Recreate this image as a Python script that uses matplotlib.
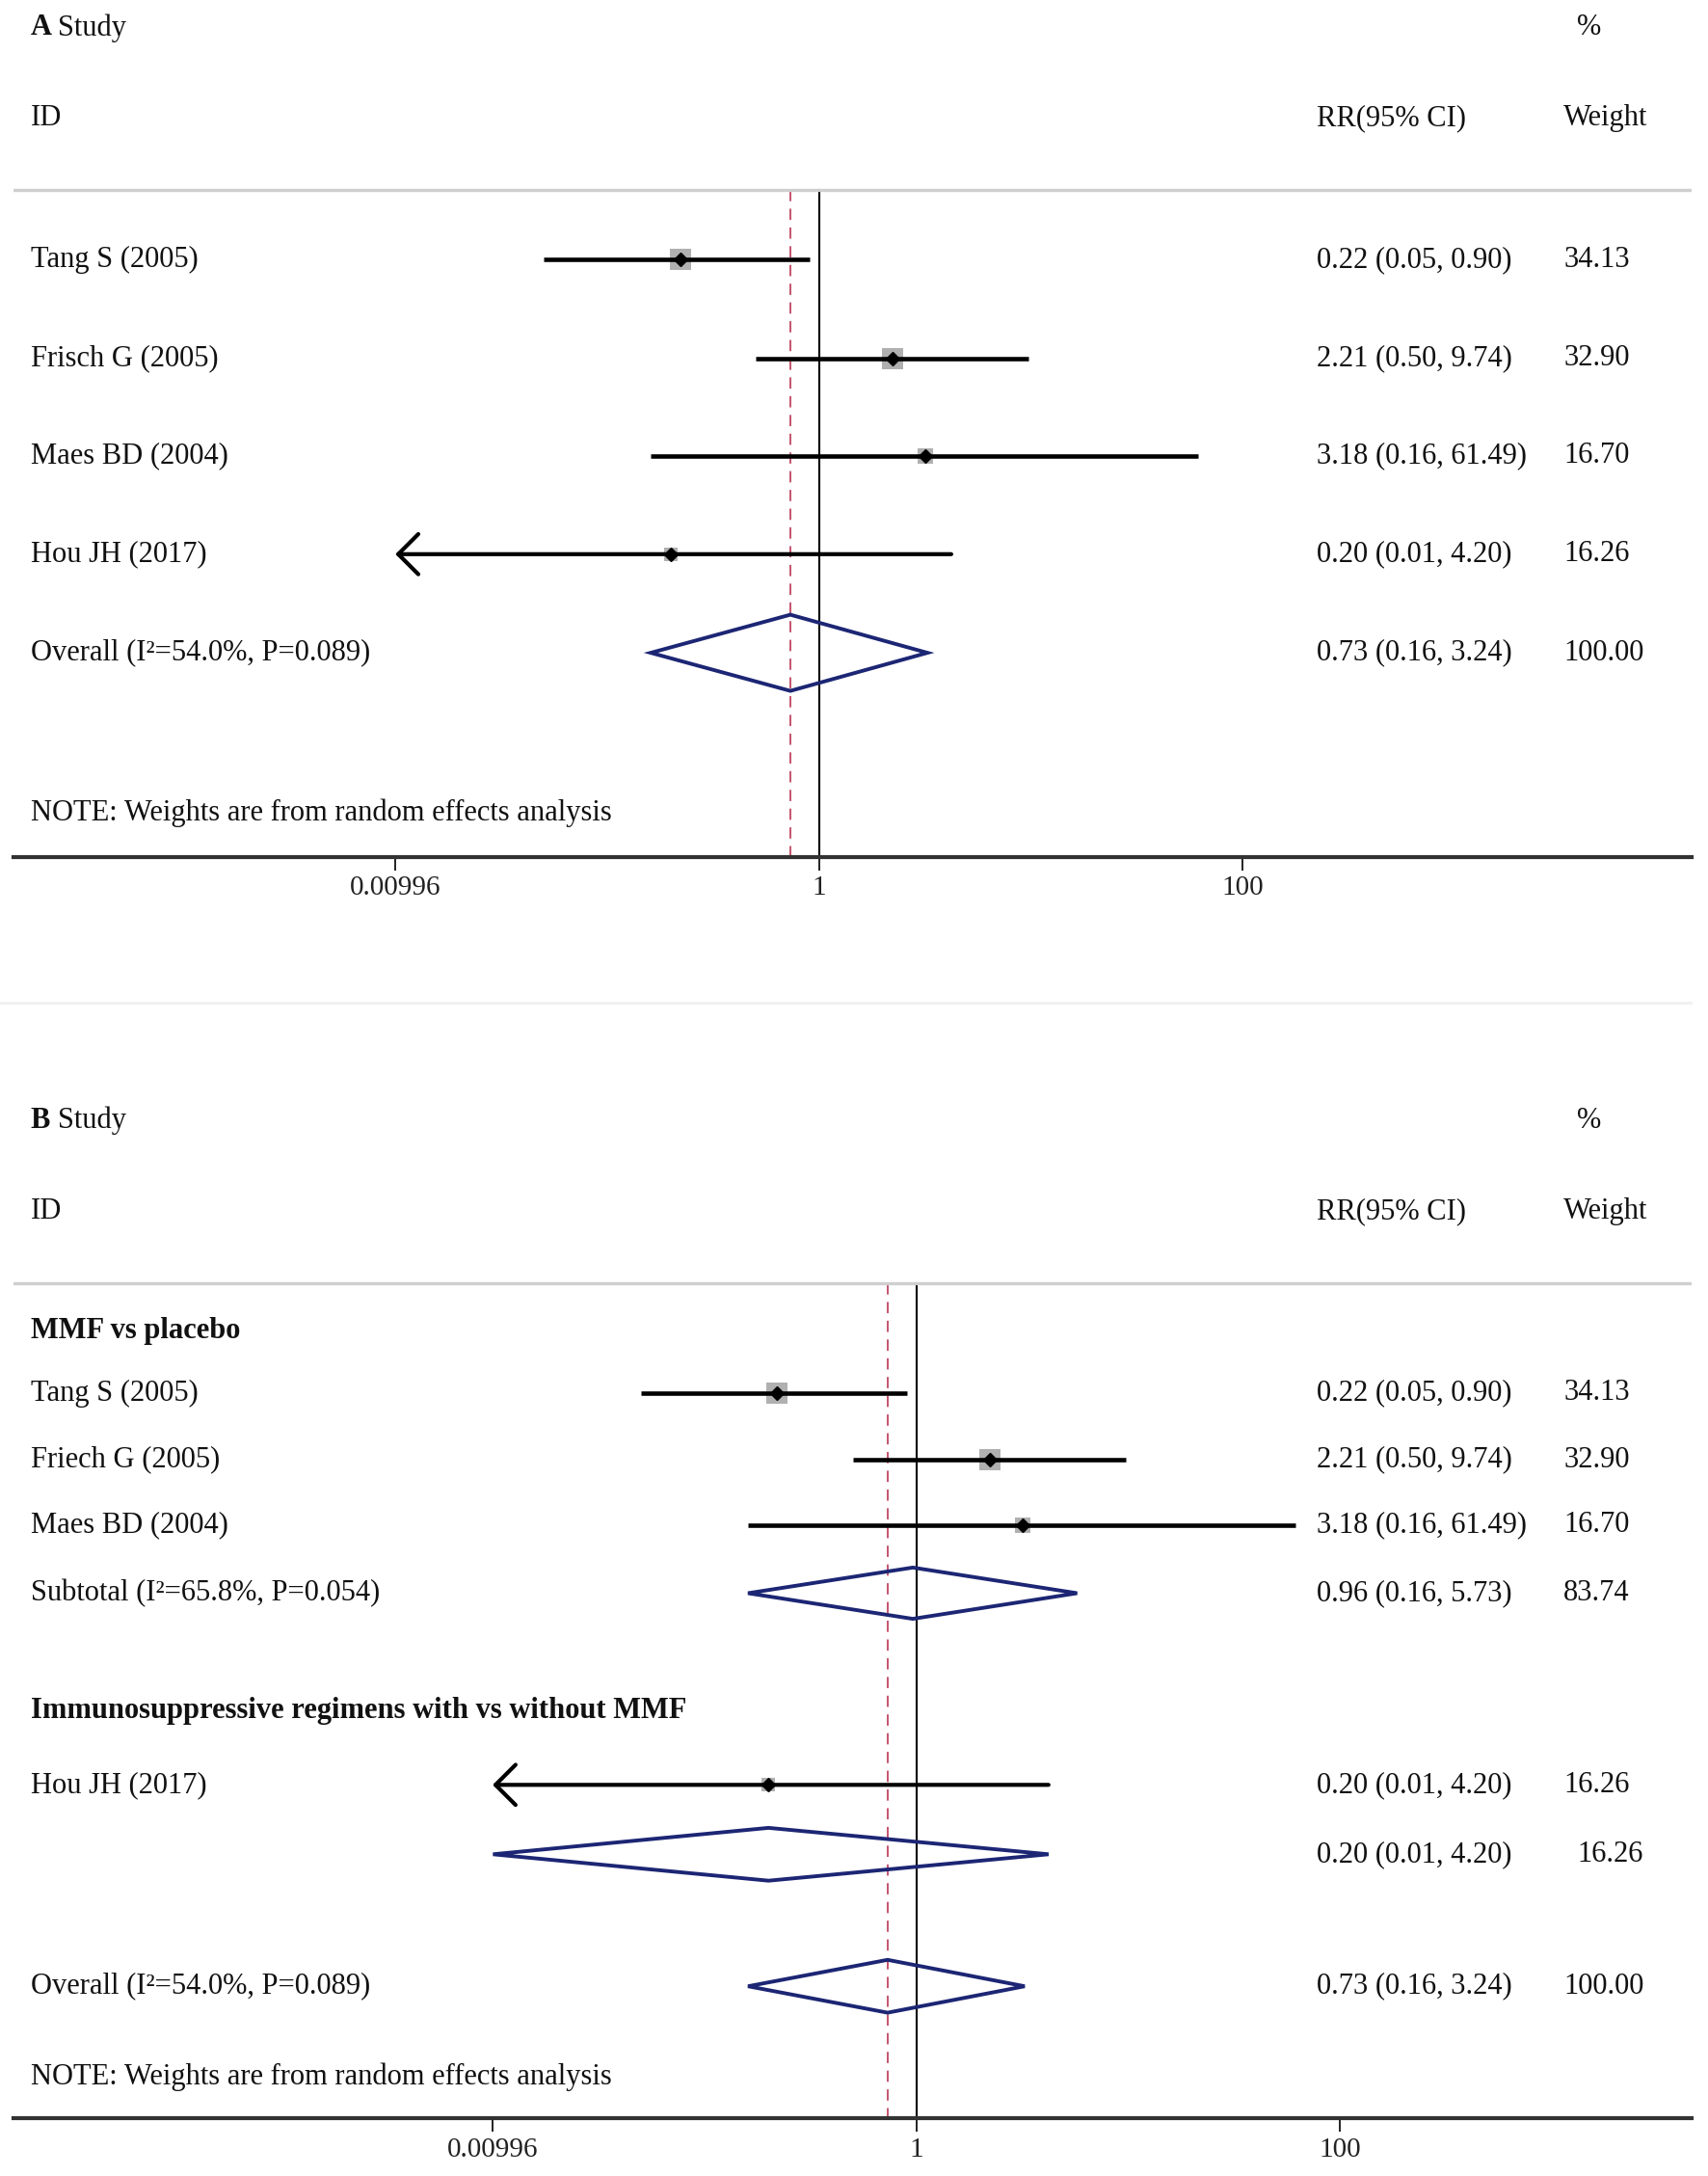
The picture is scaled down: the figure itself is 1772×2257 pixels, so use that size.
import numpy as np
import matplotlib.pyplot as plt
from matplotlib.lines import Line2D
from matplotlib.patches import Polygon
from matplotlib.ticker import NullLocator

plt.rcParams['font.family'] = ['Liberation Serif', 'DejaVu Serif']

# ---- panel A data
studies_a = ['Tang S (2005)', 'Frisch G (2005)', 'Maes BD (2004)', 'Hou JH (2017)']
rr_a = [0.22, 2.21, 3.18, 0.20]
lo_a = [0.05, 0.50, 0.16, 0.01]
hi_a = [0.90, 9.74, 61.49, 4.20]
wt_a = [34.13, 32.90, 16.70, 16.26]
arrow_a = [False, False, False, True]

# ---- panel B data
group1_name = 'MMF vs placebo'
studies_b1 = ['Tang S (2005)', 'Friech G (2005)', 'Maes BD (2004)']
rr_b1 = [0.22, 2.21, 3.18]
lo_b1 = [0.05, 0.50, 0.16]
hi_b1 = [0.90, 9.74, 61.49]
wt_b1 = [34.13, 32.90, 16.70]
sub1_label = 'Subtotal (I\u00b2=65.8%, P=0.054)'
sub1 = [0.96, 0.16, 5.73, 83.74]

group2_name = 'Immunosuppressive regimens with vs without MMF'
studies_b2 = ['Hou JH (2017)']
rr_b2 = [0.20]
lo_b2 = [0.01]
hi_b2 = [4.20]
wt_b2 = [16.26]
sub2 = [0.20, 0.01, 4.20, 16.26]

overall_label = 'Overall (I\u00b2=54.0%, P=0.089)'
overall = [0.73, 0.16, 3.24, 100.00]

tick_vals = [0.00996, 1, 100]
tick_labels = ['0.00996', '1', '100']
note = 'NOTE: Weights are from random effects analysis'

# ---- layout (pixels)
W, H = 1772, 2257
FS = 22
NAVY = '#1c2674'
RED = '#c4546e'
TXT = '#111111'
X0, X1 = 14.4, 1754.8
DECADE = 219.7
COL_LABEL, COL_STUDY, COL_RR, COL_WT, COL_PCT = 0.0099, 0.0262, 0.7765, 0.9238, 0.932

fig = plt.figure(figsize=(W / 100, H / 100), dpi=100)


def make_axes(top, bottom, one_x):
    ax = fig.add_axes([X0 / W, 1 - bottom / H, (X1 - X0) / W, (bottom - top) / H])
    ax.set_xscale('log')
    ax.set_xlim(10 ** ((X0 - one_x) / DECADE), 10 ** ((X1 - one_x) / DECADE))
    ax.set_ylim(bottom, top)
    ax.patch.set_alpha(0)
    for s in ['top', 'left', 'right']:
        ax.spines[s].set_visible(False)
    ax.spines['bottom'].set_linewidth(3.0)
    ax.spines['bottom'].set_color('#333333')
    ax.set_yticks([])
    ax.set_xticks(tick_vals)
    ax.set_xticklabels(tick_labels)
    ax.xaxis.set_minor_locator(NullLocator())
    ax.tick_params(axis='x', length=10, width=1.4, pad=4, labelsize=FS - 1,
                   colors='#222222')
    return ax


def txt(ax, x, y, s, **kw):
    ax.text(x, y, s, transform=ax.get_yaxis_transform(), va='center',
            ha='left', fontsize=FS, color=TXT, **kw)


def header(ax, letter, y1, y2, gray_y):
    txt(ax, COL_LABEL, y1, letter, fontweight='bold')
    txt(ax, COL_STUDY, y1, 'Study')
    txt(ax, COL_PCT, y1, '%')
    txt(ax, COL_LABEL, y2, 'ID')
    txt(ax, COL_RR, y2, 'RR(95% CI)')
    txt(ax, COL_WT, y2, 'Weight')
    ax.axhline(gray_y, color='#cfcfcf', lw=2.4)


def stats(ax, y, rr, lo, hi, wt, dx=0.0):
    txt(ax, COL_RR, y, f'{rr:.2f} ({lo:.2f}, {hi:.2f})')
    txt(ax, COL_WT + dx, y, f'{wt:.2f}')


def study(ax, y, name, rr, lo, hi, wt, arrow):
    txt(ax, COL_LABEL, y, name)
    side = 15.5 * np.sqrt(wt / 34.13)
    ax.scatter([rr], [y], marker='s', s=side ** 2, color='#b0b0b0', lw=0, zorder=2)
    if arrow:
        ax.annotate('', xy=(tick_vals[0], y), xytext=(hi, y),
                    arrowprops=dict(arrowstyle='->,head_length=0.75,head_width=0.75',
                                    lw=3.0, color='black', shrinkA=0, shrinkB=0,
                                    mutation_scale=20), zorder=3)
    else:
        ax.plot([lo, hi], [y, y], color='black', lw=3.3, solid_capstyle='butt', zorder=3)
    ax.plot([rr], [y], marker='D', ms=7.5, color='black', zorder=4)
    stats(ax, y, rr, lo, hi, wt)


def diamond(ax, y, vals, half, label=None, dx=0.0):
    rr, lo, hi, wt = vals
    poly = Polygon([[lo, y], [rr, y - half], [hi, y], [rr, y + half]], closed=True,
                   fill=False, edgecolor=NAVY, lw=2.8, zorder=3)
    ax.add_patch(poly)
    if label:
        txt(ax, COL_LABEL, y, label)
    stats(ax, y, rr, lo, hi, wt, dx)


def ref_lines(ax, y_top, y_bot):
    ax.plot([1, 1], [y_top, y_bot], color='black', lw=1.5, zorder=1)
    ax.plot([overall[0]] * 2, [y_top, y_bot], color=RED, lw=1.4,
            linestyle=(0, (6, 4)), zorder=1)


# ---- panel A
ax_a = make_axes(0, 889, 850.0)
header(ax_a, 'A', 28.8, 122.5, 197.4)
ref_lines(ax_a, 197.4, 889)
rows_a = [269.4, 371.7, 472.5, 574.8]
for i in range(len(studies_a)):
    study(ax_a, rows_a[i], studies_a[i], rr_a[i], lo_a[i], hi_a[i], wt_a[i], arrow_a[i])
diamond(ax_a, 677.1, overall, 39.5, overall_label)
txt(ax_a, COL_LABEL, 842.8, note)

# faint panel separator
fig.add_artist(Line2D([0.0, 0.99], [1 - 1040 / H] * 2, color='#f0f0f0', lw=2))

# ---- panel B
ax_b = make_axes(1100, 2197.1, 950.9)
header(ax_b, 'B', 1162.6, 1256.3, 1331.2)
ref_lines(ax_b, 1331.2, 2197.1)
txt(ax_b, COL_LABEL, 1380.2, group1_name, fontweight='bold')
rows_b1 = [1445.0, 1514.2, 1581.9]
for i in range(len(studies_b1)):
    study(ax_b, rows_b1[i], studies_b1[i], rr_b1[i], lo_b1[i], hi_b1[i], wt_b1[i], False)
diamond(ax_b, 1652.5, sub1, 26.6, sub1_label)
txt(ax_b, COL_LABEL, 1774.9, group2_name, fontweight='bold')
rows_b2 = [1851.3]
for i in range(len(studies_b2)):
    study(ax_b, rows_b2[i], studies_b2[i], rr_b2[i], lo_b2[i], hi_b2[i], wt_b2[i], True)
diamond(ax_b, 1923.3, sub2, 27.4, dx=0.008)
diamond(ax_b, 2060.2, overall, 27.4, overall_label)
txt(ax_b, COL_LABEL, 2153.8, note)

fig.savefig('out.png', dpi=100)
